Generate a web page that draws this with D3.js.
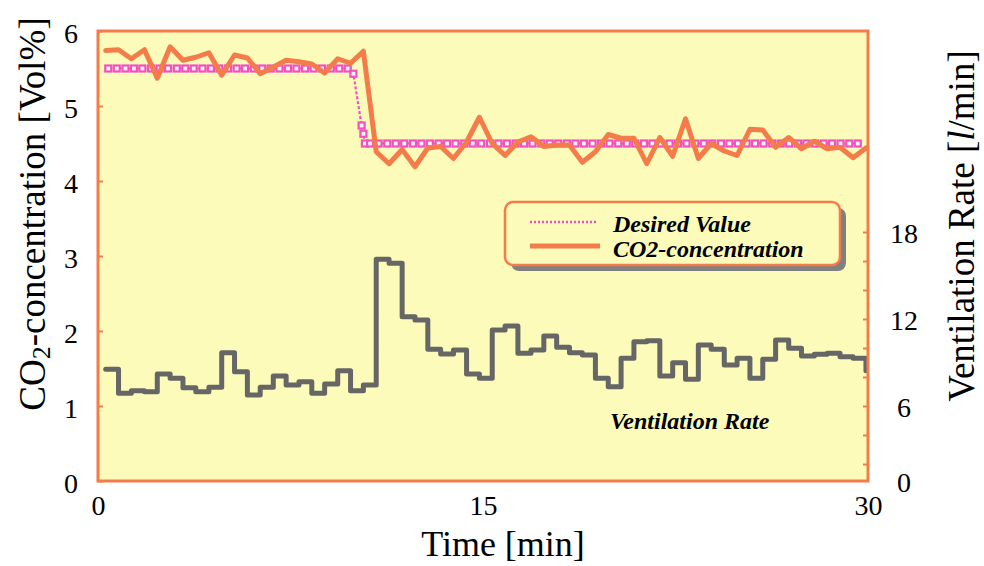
<!DOCTYPE html>
<html>
<head>
<meta charset="utf-8">
<script src="https://cdn.jsdelivr.net/npm/d3@7"></script>
<style>
  html, body { margin: 0; padding: 0; background: #ffffff; }
  svg { display: block; }
</style>
</head>
<body>
<svg id="chart" width="984" height="566"></svg>
<script>
// ---- data ----
const sampleTimes = [0.30, 0.80, 1.30, 1.81, 2.31, 2.81, 3.31, 3.81, 4.32, 4.82,
  5.32, 5.82, 6.32, 6.83, 7.33, 7.83, 8.33, 8.83, 9.34, 9.84,
  10.34, 10.84, 11.34, 11.85, 12.35, 12.85, 13.35, 13.85, 14.36, 14.86,
  15.36, 15.86, 16.36, 16.87, 17.37, 17.87, 18.37, 18.87, 19.38, 19.88,
  20.38, 20.88, 21.38, 21.89, 22.39, 22.89, 23.39, 23.89, 24.40, 24.90,
  25.40, 25.90, 26.40, 26.91, 27.41, 27.91, 28.41, 28.91, 29.42, 29.92];

const co2Values = [5.74, 5.75, 5.63, 5.75, 5.37, 5.79, 5.61, 5.65, 5.71, 5.41,
  5.68, 5.64, 5.43, 5.52, 5.61, 5.59, 5.56, 5.44, 5.63, 5.57,
  5.73, 4.39, 4.23, 4.42, 4.19, 4.44, 4.46, 4.30, 4.52, 4.85,
  4.50, 4.34, 4.52, 4.59, 4.46, 4.48, 4.48, 4.25, 4.39, 4.62,
  4.57, 4.57, 4.23, 4.58, 4.33, 4.83, 4.30, 4.50, 4.40, 4.34,
  4.69, 4.68, 4.45, 4.58, 4.43, 4.53, 4.43, 4.45, 4.31, 4.44];

const ventilationValues = [8.53, 6.88, 7.06, 6.99, 8.21, 7.91, 7.26, 6.99, 7.29, 9.68,
  8.37, 6.76, 7.29, 8.07, 7.45, 7.68, 6.88, 7.52, 8.43, 7.06,
  7.45, 16.12, 15.84, 12.16, 11.93, 9.91, 9.59, 9.86, 8.21, 7.91,
  11.24, 11.52, 9.63, 9.86, 10.83, 10.05, 9.68, 9.52, 7.91, 7.33,
  9.29, 10.43, 10.50, 8.07, 8.99, 7.84, 10.21, 9.91, 8.83, 9.29,
  7.91, 9.22, 10.55, 9.98, 9.45, 9.57, 9.63, 9.40, 9.29, 8.43];

const desiredTimes = [0.40, 0.73, 1.07, 1.40, 1.73, 2.07, 2.40, 2.73, 3.07, 3.40,
  3.73, 4.07, 4.40, 4.73, 5.07, 5.40, 5.73, 6.07, 6.40, 6.73,
  7.07, 7.40, 7.73, 8.07, 8.40, 8.73, 9.07, 9.40, 9.73,
  9.95, 10.27, 10.34, 10.40,
  10.60, 10.93, 11.27, 11.60, 11.93, 12.27, 12.60, 12.93, 13.27, 13.60,
  13.93, 14.27, 14.60, 14.93, 15.27, 15.60, 15.93, 16.27, 16.60, 16.93,
  17.27, 17.60, 17.93, 18.27, 18.60, 18.93, 19.27, 19.60, 19.93, 20.27,
  20.60, 20.93, 21.27, 21.60, 21.93, 22.27, 22.60, 22.93, 23.27, 23.60,
  23.93, 24.27, 24.60, 24.93, 25.27, 25.60, 25.93, 26.27, 26.60, 26.93,
  27.27, 27.60, 27.93, 28.27, 28.60, 28.93, 29.27, 29.60];

const desiredValues = [5.5, 5.5, 5.5, 5.5, 5.5, 5.5, 5.5, 5.5, 5.5, 5.5,
  5.5, 5.5, 5.5, 5.5, 5.5, 5.5, 5.5, 5.5, 5.5, 5.5,
  5.5, 5.5, 5.5, 5.5, 5.5, 5.5, 5.5, 5.5, 5.5,
  5.43, 4.74, 4.63, 4.5,
  4.5, 4.5, 4.5, 4.5, 4.5, 4.5, 4.5, 4.5, 4.5, 4.5,
  4.5, 4.5, 4.5, 4.5, 4.5, 4.5, 4.5, 4.5, 4.5, 4.5,
  4.5, 4.5, 4.5, 4.5, 4.5, 4.5, 4.5, 4.5, 4.5, 4.5,
  4.5, 4.5, 4.5, 4.5, 4.5, 4.5, 4.5, 4.5, 4.5, 4.5,
  4.5, 4.5, 4.5, 4.5, 4.5, 4.5, 4.5, 4.5, 4.5, 4.5,
  4.5, 4.5, 4.5, 4.5, 4.5, 4.5, 4.5, 4.5];

const xTickValues = [0, 15, 30];
const yTickValues = [0, 1, 2, 3, 4, 5, 6];
const y2TickValues = [2, 4, 6, 8, 10, 12, 14, 16, 18];
const y2LabelValues = [0, 6, 12, 18];
const legendLabels = ["Desired Value", "CO2-concentration"];
const seriesLabel = "Ventilation Rate";

// ---- styles ----
const ORANGE = "#F47C4A";
const PINK = "#F150C1";
const GRAY = "#666666";
const BG = "#FCFBB9";
const SERIF = "'Liberation Serif', 'Times New Roman', serif";

const plot = { left: 98, right: 868, top: 31, bottom: 481 };

const svg = d3.select("#chart");

const x = d3.scaleLinear().domain([0, 30]).range([plot.left, plot.right]);
const y = d3.scaleLinear().domain([0, 6]).range([plot.bottom, plot.top]);
const y2 = d3.scaleLinear().domain([0, 18]).range([493, 232]);

// plot background
svg.append("rect")
  .attr("x", plot.left).attr("y", plot.top)
  .attr("width", plot.right - plot.left).attr("height", plot.bottom - plot.top)
  .attr("fill", BG);

// axes ticks
const leftAxis = svg.append("g")
  .attr("transform", `translate(${plot.left},0)`)
  .call(d3.axisLeft(y).tickValues(yTickValues).tickSize(-5).tickPadding(20).tickFormat(d3.format("d")));
leftAxis.select(".domain").remove();
leftAxis.selectAll("line").attr("stroke", ORANGE).attr("stroke-width", 2);
leftAxis.selectAll("text")
  .attr("font-family", SERIF).attr("font-size", 28).attr("fill", "#000")
  .attr("dy", "0.42em");

const rightAxis = svg.append("g")
  .attr("transform", `translate(${plot.right},0)`)
  .call(d3.axisRight(y2).tickValues(y2TickValues).tickSize(-5).tickFormat(""));
rightAxis.select(".domain").remove();
rightAxis.selectAll("line").attr("stroke", ORANGE).attr("stroke-width", 2);

svg.append("g").selectAll("text")
  .data(y2LabelValues).join("text")
  .attr("x", 904)
  .attr("y", d => Math.min(y2(d), plot.bottom) + 11)
  .attr("text-anchor", "middle")
  .attr("font-family", SERIF).attr("font-size", 28).attr("fill", "#000")
  .text(d => d);

const bottomAxis = svg.append("g")
  .attr("transform", `translate(0,${plot.bottom})`)
  .call(d3.axisBottom(x).tickValues(xTickValues).tickSize(0).tickPadding(14));
bottomAxis.select(".domain").remove();
bottomAxis.selectAll("text")
  .attr("font-family", SERIF).attr("font-size", 28).attr("fill", "#000");

// ventilation step line
const ventData = sampleTimes.map((t, i) => [t, ventilationValues[i]]);
svg.append("path")
  .datum(ventData)
  .attr("fill", "none")
  .attr("stroke", GRAY)
  .attr("stroke-width", 5)
  .attr("stroke-linejoin", "round")
  .attr("stroke-linecap", "round")
  .attr("d", d3.line().x(d => x(d[0])).y(d => y2(d[1])).curve(d3.curveStepAfter));

// desired value line
const desiredData = desiredTimes.map((t, i) => [t, desiredValues[i]]);
svg.append("path")
  .datum(desiredData)
  .attr("fill", "none")
  .attr("stroke", PINK)
  .attr("stroke-width", 2.2)
  .attr("stroke-dasharray", "3,2")
  .attr("d", d3.line().x(d => x(d[0])).y(d => y(d[1])));

svg.append("g").selectAll("rect")
  .data(desiredData).join("rect")
  .attr("x", d => x(d[0]) - 3)
  .attr("y", d => y(d[1]) - 3)
  .attr("width", 6).attr("height", 6)
  .attr("fill", "#fff4fb")
  .attr("stroke", PINK)
  .attr("stroke-width", 2.2);

// CO2 line
const co2Data = sampleTimes.map((t, i) => [t, co2Values[i]]);
svg.append("path")
  .datum(co2Data)
  .attr("fill", "none")
  .attr("stroke", ORANGE)
  .attr("stroke-width", 5)
  .attr("stroke-linejoin", "round")
  .attr("stroke-linecap", "round")
  .attr("d", d3.line().x(d => x(d[0])).y(d => y(d[1])));

// frame
svg.append("rect")
  .attr("x", plot.left).attr("y", plot.top)
  .attr("width", plot.right - plot.left).attr("height", plot.bottom - plot.top)
  .attr("fill", "none")
  .attr("stroke", ORANGE)
  .attr("stroke-width", 3);

// legend
const lg = svg.append("g");
lg.append("rect")
  .attr("x", 511).attr("y", 208).attr("width", 335).attr("height", 63)
  .attr("rx", 8).attr("fill", "#808080");
lg.append("rect")
  .attr("x", 505).attr("y", 202).attr("width", 335).attr("height", 63)
  .attr("rx", 8).attr("fill", BG)
  .attr("stroke", ORANGE).attr("stroke-width", 2.5);
lg.append("line")
  .attr("x1", 530).attr("x2", 597).attr("y1", 222).attr("y2", 222)
  .attr("stroke", PINK).attr("stroke-width", 2.5).attr("stroke-dasharray", "2,2");
lg.append("line")
  .attr("x1", 530).attr("x2", 600).attr("y1", 246).attr("y2", 246)
  .attr("stroke", ORANGE).attr("stroke-width", 5);
lg.selectAll("text.lt")
  .data(legendLabels).join("text")
  .attr("class", "lt")
  .attr("x", 613)
  .attr("y", (d, i) => 232 + i * 25)
  .attr("font-family", SERIF).attr("font-size", 24)
  .attr("font-weight", "bold").attr("font-style", "italic")
  .attr("fill", "#000")
  .text(d => d);

// series label
svg.append("text")
  .attr("x", 610).attr("y", 429)
  .attr("font-family", SERIF).attr("font-size", 24)
  .attr("font-weight", "bold").attr("font-style", "italic")
  .attr("fill", "#000")
  .text(seriesLabel);

// axis titles
svg.append("text")
  .attr("x", 503).attr("y", 556)
  .attr("text-anchor", "middle")
  .attr("font-family", SERIF).attr("font-size", 36).attr("fill", "#000")
  .text("Time [min]");

const yl = svg.append("text")
  .attr("transform", "translate(45,214) rotate(-90)")
  .attr("text-anchor", "middle")
  .attr("font-family", SERIF).attr("font-size", 37).attr("fill", "#000");
yl.append("tspan").text("CO");
yl.append("tspan").attr("font-size", 26).attr("dy", 5).text("2");
yl.append("tspan").attr("dy", -5).text("-concentration [Vol%]");

const yr = svg.append("text")
  .attr("transform", "translate(974,226) rotate(-90)")
  .attr("text-anchor", "middle")
  .attr("font-family", SERIF).attr("font-size", 37).attr("fill", "#000");
yr.append("tspan").text("Ventilation Rate [");
yr.append("tspan").attr("font-style", "italic").text("l");
yr.append("tspan").text("/min]");
</script>
</body>
</html>
